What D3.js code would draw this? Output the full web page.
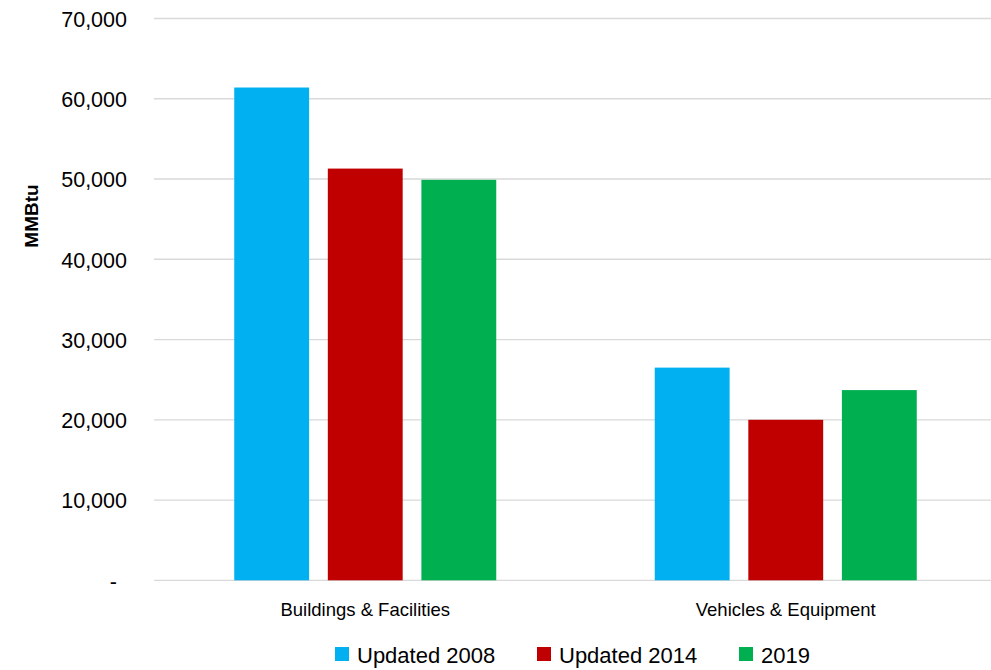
<!DOCTYPE html>
<html>
<head>
<meta charset="utf-8">
<script src="https://cdn.jsdelivr.net/npm/d3@7/dist/d3.min.js"></script>
<style>
  html, body { margin: 0; padding: 0; background: #fff; }
  svg { display: block; font-family: "Liberation Sans", Arial, sans-serif; }
</style>
</head>
<body>
<svg id="chart" width="991" height="670"></svg>
<script>
const categories = ["Buildings & Facilities", "Vehicles & Equipment"];
const seriesNames = ["Updated 2008", "Updated 2014", "2019"];
const seriesColors = ["#00B0F0", "#C00000", "#00B050"];
const values2008 = [61400, 26500];
const values2014 = [51300, 20000];
const values2019 = [49900, 23700];
const yTicks = [0, 10000, 20000, 30000, 40000, 50000, 60000, 70000];
const yTitle = "MMBtu";

const seriesValues = [values2008, values2014, values2019];

const svg = d3.select("#chart");
const plotLeft = 155, plotRight = 996, plotTop = 18.5, plotBottom = 580.3;

const y = d3.scaleLinear().domain([0, 70000]).range([plotBottom, plotTop]);
const x0 = d3.scaleBand().domain(categories).range([plotLeft, plotRight]).padding(0);
const groupW = 262;
const x1 = d3.scaleBand().domain(seriesNames)
  .range([(x0.bandwidth() - groupW) / 2, (x0.bandwidth() + groupW) / 2])
  .paddingInner(0.2).paddingOuter(0);

// gridlines
svg.append("g").selectAll("line").data(yTicks).join("line")
  .attr("x1", 154).attr("x2", 991)
  .attr("y1", d => y(d)).attr("y2", d => y(d))
  .attr("stroke", "#D9D9D9").attr("stroke-width", 1.3);

// y axis labels
const yAxis = d3.axisLeft(y).tickValues(yTicks).tickSize(0).tickPadding(0)
  .tickFormat(d => d === 0 ? "-" : d3.format(",")(d));
const gy = svg.append("g").attr("transform", `translate(127,0)`).call(yAxis);
gy.select(".domain").remove();
gy.selectAll("text").attr("font-size", 21.5).attr("fill", "#000")
  .attr("font-family", "Liberation Sans, Arial, sans-serif")
  .attr("dy", "0.36em")
  .attr("dx", d => d === 0 ? -10 : 0);

// bars
const groups = svg.append("g").selectAll("g").data(categories).join("g")
  .attr("transform", d => `translate(${x0(d)},0)`);
groups.selectAll("rect")
  .data((c, ci) => seriesNames.map((s, si) => ({ s, si, v: seriesValues[si][ci] })))
  .join("rect")
  .attr("x", d => x1(d.s))
  .attr("width", x1.bandwidth())
  .attr("y", d => y(d.v))
  .attr("height", d => y(0) - y(d.v))
  .attr("fill", d => seriesColors[d.si]);

// x axis labels
const xAxis = d3.axisBottom(x0).tickSize(0).tickPadding(0);
const gx = svg.append("g").attr("transform", `translate(0,${plotBottom})`).call(xAxis);
gx.select(".domain").remove();
gx.selectAll("text").attr("font-size", 18.5).attr("fill", "#000")
  .attr("font-family", "Liberation Sans, Arial, sans-serif")
  .attr("dy", "0").attr("y", 36);

// y title
svg.append("text")
  .attr("transform", `translate(38,216) rotate(-90)`)
  .attr("text-anchor", "middle")
  .attr("font-size", 19).attr("font-weight", "bold").attr("fill", "#000")
  .text(yTitle);

// legend
const legendX = [335, 537, 739];
const leg = svg.append("g").selectAll("g").data(seriesNames).join("g")
  .attr("transform", (d, i) => `translate(${legendX[i]},647)`);
leg.append("rect").attr("width", 14).attr("height", 14)
  .attr("fill", (d, i) => seriesColors[i]);
leg.append("text").attr("x", 22).attr("y", 15.5)
  .attr("font-size", 22).attr("fill", "#000").text(d => d);
</script>
</body>
</html>
